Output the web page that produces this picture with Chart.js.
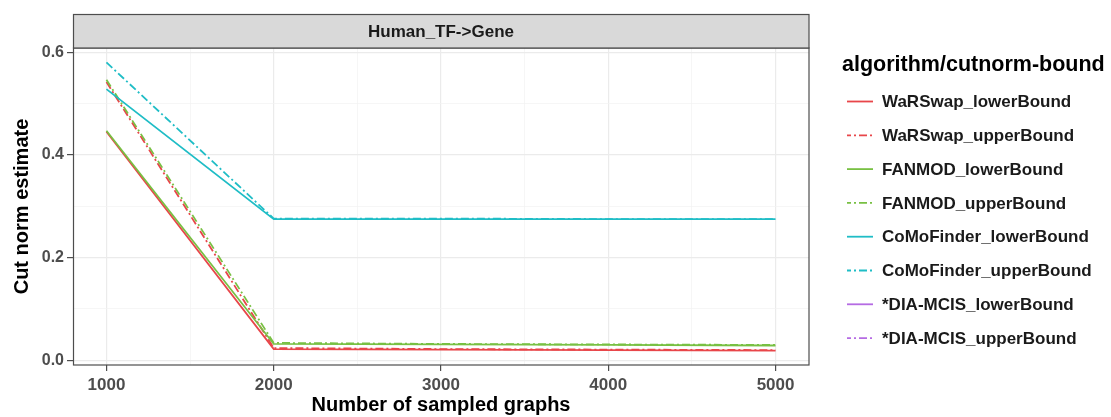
<!DOCTYPE html>
<html>
<head>
<meta charset="utf-8">
<script src="https://cdn.jsdelivr.net/npm/chart.js@4.4.1/dist/chart.umd.min.js"></script>
<style>
html,body{margin:0;padding:0;background:#fff;}
#wrap{position:relative;width:1111px;height:417px;}
</style>
</head>
<body>
<div id="wrap"><canvas id="c" width="1111" height="417"></canvas></div>
<script>
// ---- data ----
const xValues = [1000, 2000, 3000, 4000, 5000];
const seriesNames = [
  "WaRSwap_lowerBound", "WaRSwap_upperBound",
  "FANMOD_lowerBound", "FANMOD_upperBound",
  "CoMoFinder_lowerBound", "CoMoFinder_upperBound",
  "*DIA-MCIS_lowerBound", "*DIA-MCIS_upperBound"
];
const warswapLower = [0.445, 0.022, 0.021, 0.020, 0.019];
const warswapUpper = [0.542, 0.024, 0.022, 0.021, 0.020];
const fanmodLower = [0.447, 0.032, 0.031, 0.030, 0.029];
const fanmodUpper = [0.546, 0.034, 0.032, 0.031, 0.030];
const comoLower = [0.528, 0.275, 0.275, 0.275, 0.275];
const comoUpper = [0.580, 0.276, 0.276, 0.275, 0.275];
const diaLower = [null, null, null, null, null];
const diaUpper = [null, null, null, null, null];
const xTickLabels = [1000, 2000, 3000, 4000, 5000];
const xMinorTicks = [1500, 2500, 3500, 4500];
const yTickLabels = [0.0, 0.2, 0.4, 0.6];
const yMinorTicks = [0.1, 0.3, 0.5];
const panelTitle = "Human_TF->Gene";
const legendTitle = "algorithm/cutnorm-bound";
const xTitle = "Number of sampled graphs";
const yTitle = "Cut norm estimate";

const seriesValues = [warswapLower, warswapUpper, fanmodLower, fanmodUpper, comoLower, comoUpper, diaLower, diaUpper];
const colors = ["#E8464A", "#E8464A", "#78C043", "#78C043", "#1FBDC6", "#1FBDC6", "#B56BE3", "#B56BE3"];
const DASH = [8, 3, 2, 3];
const FONT = "'Liberation Sans', Arial, Helvetica, sans-serif";

const datasets = seriesValues.map((vals, i) => ({
  label: seriesNames[i],
  data: vals.map((v, j) => ({x: xValues[j], y: v})),
  borderColor: colors[i],
  backgroundColor: colors[i],
  borderWidth: 1.8,
  borderDash: (i % 2 === 1) ? DASH : [],
  pointRadius: 0,
  pointHoverRadius: 0,
  tension: 0,
  fill: false,
  spanGaps: false,
  order: -i
}));

const decorPlugin = {
  id: 'decor',
  beforeDraw(chart) {
    const ctx = chart.ctx;
    ctx.save();
    ctx.fillStyle = '#ffffff';
    ctx.fillRect(0, 0, chart.width, chart.height);
    ctx.restore();
  },
  afterDatasetsDraw(chart) {
    const ctx = chart.ctx;
    const a = chart.chartArea;
    ctx.save();
    // panel border
    ctx.strokeStyle = '#4d4d4d';
    ctx.lineWidth = 1.2;
    ctx.strokeRect(a.left + 0.5, a.top, a.right - a.left - 0.5, a.bottom - a.top);
    // strip
    const stripTop = 14;
    ctx.fillStyle = '#D9D9D9';
    ctx.fillRect(a.left, stripTop, a.right - a.left, a.top - stripTop);
    ctx.strokeStyle = '#4d4d4d';
    ctx.lineWidth = 1.2;
    ctx.strokeRect(a.left + 0.5, stripTop + 0.5, a.right - a.left - 0.5, a.top - stripTop - 0.5);
    ctx.fillStyle = '#1a1a1a';
    ctx.font = 'bold 17px ' + FONT;
    ctx.textAlign = 'center';
    ctx.textBaseline = 'middle';
    ctx.fillText(panelTitle, (a.left + a.right) / 2, (stripTop + a.top) / 2 + 1);

    // legend
    ctx.textAlign = 'left';
    ctx.fillStyle = '#000';
    ctx.font = 'bold 21.5px ' + FONT;
    ctx.fillText(legendTitle, 842, 65);
    ctx.font = 'bold 17px ' + FONT;
    chart.data.datasets.forEach((ds, i) => {
      const y = 101.5 + i * 33.8;
      ctx.beginPath();
      ctx.strokeStyle = ds.borderColor;
      ctx.lineWidth = 1.8;
      ctx.setLineDash(ds.borderDash || []);
      ctx.lineDashOffset = (ds.borderDash && ds.borderDash.length) ? 4 : 0;
      ctx.moveTo(847, y);
      ctx.lineTo(873, y);
      ctx.stroke();
      ctx.setLineDash([]);
      ctx.fillStyle = '#1a1a1a';
      ctx.fillText(ds.label, 882, y + 1);
    });
    ctx.restore();
  }
};

new Chart(document.getElementById('c'), {
  type: 'line',
  data: { datasets },
  options: {
    responsive: false,
    animation: false,
    devicePixelRatio: 1,
    layout: { padding: { left: 0, right: 302, top: 48, bottom: 0 } },
    plugins: { legend: { display: false }, tooltip: { enabled: false } },
    scales: {
      x: {
        type: 'linear',
        min: 800,
        max: 5200,
        afterBuildTicks(scale) {
          scale.ticks = xTickLabels.concat(xMinorTicks).sort((p, q) => p - q).map(v => ({value: v}));
        },
        afterFit(scale) { scale.height = 52; },
        ticks: {
          padding: 4,
          autoSkip: false,
          maxRotation: 0,
          color: '#4D4D4D',
          font: { family: FONT, size: 17, weight: 'bold' },
          callback: (v) => xTickLabels.includes(v) ? String(v) : ''
        },
        grid: {
          drawOnChartArea: true,
          drawTicks: true,
          tickLength: 6,
          color: (c) => xTickLabels.includes(c.tick && c.tick.value) ? '#EBEBEB' : '#F2F2F2',
          lineWidth: (c) => xTickLabels.includes(c.tick && c.tick.value) ? 1.2 : 0.7,
          tickColor: (c) => xTickLabels.includes(c.tick && c.tick.value) ? '#4d4d4d' : 'rgba(0,0,0,0)',
          tickWidth: 1.2
        },
        border: { display: false },
        title: {
          display: true,
          text: xTitle,
          color: '#000',
          padding: { top: 0, bottom: 0 },
          font: { family: FONT, size: 20, weight: 'bold' }
        }
      },
      y: {
        type: 'linear',
        min: -0.009,
        max: 0.608,
        afterBuildTicks(scale) {
          scale.ticks = yTickLabels.concat(yMinorTicks).sort((p, q) => p - q).map(v => ({value: v}));
        },
        afterFit(scale) { scale.width = 73; },
        ticks: {
          padding: 3,
          autoSkip: false,
          color: '#4D4D4D',
          font: { family: FONT, size: 16, weight: 'bold' },
          callback: (v) => yTickLabels.some(t => Math.abs(t - v) < 1e-9) ? v.toFixed(1) : ''
        },
        grid: {
          drawOnChartArea: true,
          drawTicks: true,
          tickLength: 6,
          color: (c) => yTickLabels.some(t => c.tick && Math.abs(t - c.tick.value) < 1e-9) ? '#EBEBEB' : '#F2F2F2',
          lineWidth: (c) => yTickLabels.some(t => c.tick && Math.abs(t - c.tick.value) < 1e-9) ? 1.2 : 0.7,
          tickColor: (c) => yTickLabels.some(t => c.tick && Math.abs(t - c.tick.value) < 1e-9) ? '#4d4d4d' : 'rgba(0,0,0,0)',
          tickWidth: 1.2
        },
        border: { display: false },
        title: {
          display: true,
          text: yTitle,
          color: '#000',
          padding: { top: 10, bottom: 0 },
          font: { family: FONT, size: 20, weight: 'bold' }
        }
      }
    }
  },
  plugins: [decorPlugin]
});
</script>
</body>
</html>
